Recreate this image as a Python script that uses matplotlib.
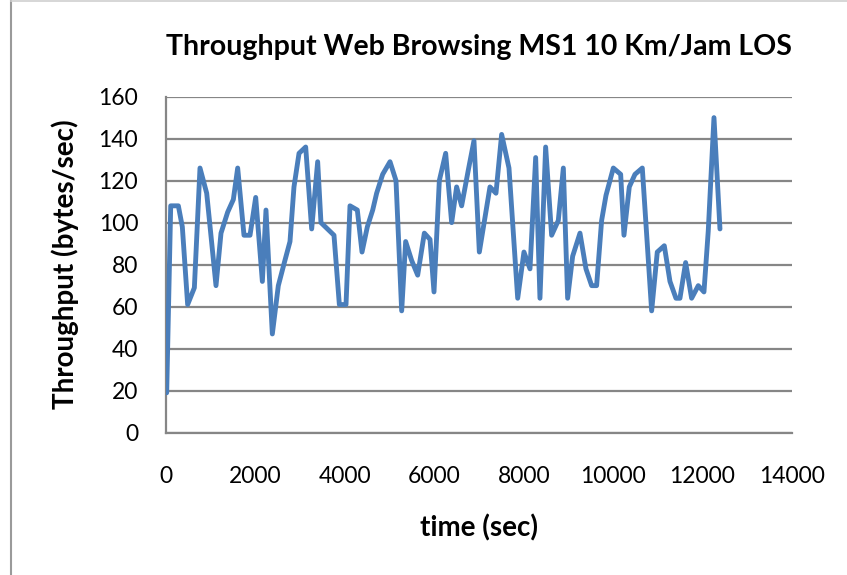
import matplotlib.pyplot as plt
from matplotlib.lines import Line2D

# time (sec) and throughput (bytes/sec)
time_sec = [15, 105, 276, 365, 484, 634, 760, 910, 1118, 1230, 1379, 1506,
            1603, 1744, 1879, 2006, 2155, 2236, 2378, 2512, 2647, 2773, 2862,
            2975, 3124, 3258, 3392, 3466, 3757, 3877, 4026, 4115, 4279, 4384,
            4503, 4623, 4711, 4846, 5010, 5144, 5271, 5360, 5494, 5629, 5778,
            5905, 5994, 6113, 6255, 6389, 6500, 6612, 6761, 6888, 7008, 7246,
            7380, 7507, 7671, 7866, 8006, 8141, 8268, 8364, 8491, 8625, 8774,
            8887, 8983, 9095, 9259, 9393, 9520, 9631, 9743, 9841, 10005,
            10169, 10243, 10362, 10489, 10653, 10862, 10988, 11145, 11272,
            11406, 11495, 11622, 11756, 11905, 12032, 12128, 12256, 12390]
throughput = [19, 108, 108, 98, 61, 69, 126, 114, 70, 95, 105, 111,
              126, 94, 94, 112, 72, 106, 47, 70, 81, 91, 117,
              133, 136, 97, 129, 100, 94, 61, 61, 108, 106, 86,
              98, 106, 114, 123, 129, 120, 58, 91, 82, 75, 95,
              92, 67, 120, 133, 100, 117, 108, 125, 139, 86, 117,
              114, 142, 126, 64, 86, 78, 131, 64, 136, 94, 101,
              126, 64, 84, 95, 78, 70, 70, 101, 113, 126,
              123, 94, 117, 123, 126, 58, 86, 89, 72,
              64, 64, 81, 64, 70, 67, 96, 150, 97]

title = 'Throughput Web Browsing MS1 10 Km/Jam LOS'
xticks = [0, 2000, 4000, 6000, 8000, 10000, 12000, 14000]
yticks = [0, 20, 40, 60, 80, 100, 120, 140, 160]

plt.rcParams['font.family'] = ['Lato', 'DejaVu Sans']

fig = plt.figure(figsize=(8.47, 5.75), dpi=100)
ax = fig.add_axes([0.196, 0.2475, 0.739, 0.5845])

ax.plot(time_sec, throughput, color='#4a7ebb', linewidth=3.5,
        solid_joinstyle='round', solid_capstyle='round', zorder=3)

ax.set_xlim(0, 14000)
ax.set_ylim(0, 160)
ax.set_xticks(xticks)
ax.set_yticks(yticks)
ax.tick_params(length=0, labelsize=16.5)
ax.tick_params(axis='y', pad=20)
ax.tick_params(axis='x', pad=24)
ax.grid(axis='y', color='#868686', linewidth=1.6)
ax.set_axisbelow(True)
for side in ['top', 'right']:
    ax.spines[side].set_visible(False)
for side in ['left', 'bottom']:
    ax.spines[side].set_color('#868686')
    ax.spines[side].set_linewidth(1.6)

ax.set_title(title, fontsize=20.5, fontweight='bold', pad=30, x=0.5)
ax.set_xlabel('time (sec)', fontsize=20, fontweight='bold', labelpad=20)
ax.set_ylabel('Throughput (bytes/sec)', fontsize=20, fontweight='bold',
              labelpad=14)

# border of the pasted chart image
fig.add_artist(Line2D([0.013, 0.013], [0, 1], color='#9a9a9a', linewidth=1.5,
                      transform=fig.transFigure))
fig.add_artist(Line2D([0.013, 1], [0.998, 0.998], color='#d0d0d0',
                      linewidth=1.2, transform=fig.transFigure))

fig.savefig('out.png', dpi=100)
